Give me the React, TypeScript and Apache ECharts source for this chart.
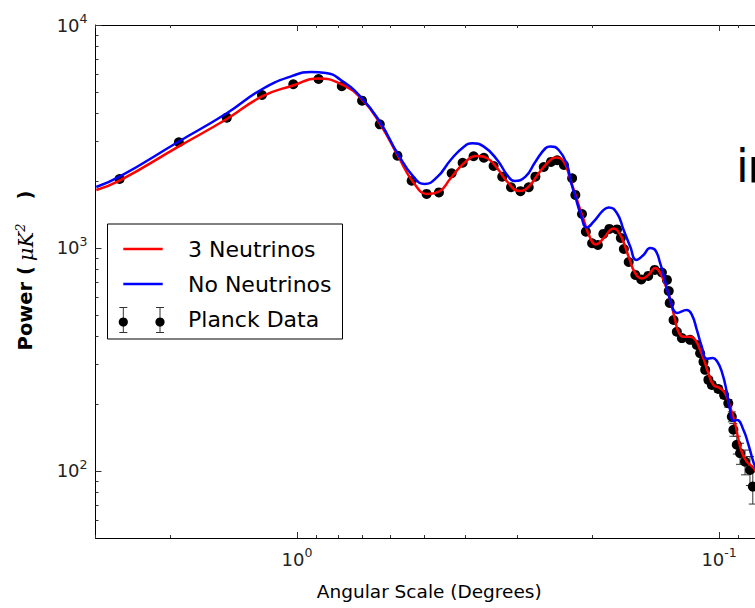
import React, { useEffect, useRef } from "react";
import * as echarts from "echarts";

// ---- Model curves (angular scale in degrees, power in µK²) ----
const redDeg = [2.987, 2.631, 1.904, 1.466, 1.21, 1.022, 0.8934, 0.787, 0.7009, 0.633, 0.5779, 0.528, 0.4909, 0.4609, 0.4324, 0.4022, 0.374, 0.3541, 0.3353, 0.3176, 0.2971, 0.2824, 0.2674, 0.2532, 0.2442, 0.2334, 0.225, 0.217, 0.2093, 0.2018, 0.1959, 0.1877, 0.181, 0.1776, 0.1738, 0.1698, 0.1638, 0.1579, 0.1521, 0.147, 0.1417, 0.1379, 0.1341, 0.1305, 0.1271, 0.1248, 0.1215, 0.1171, 0.1139, 0.1109, 0.1079, 0.106, 0.1031, 0.0995, 0.0968, 0.0942, 0.0917, 0.0901, 0.0884, 0.086, 0.0837, 0.0822, 0.08];
const redPow = [1820, 2004, 2853, 3789, 4779, 5355, 5756, 5437, 4643, 3561, 2612, 1951, 1747, 1789, 2054, 2398, 2586, 2525, 2278, 1983, 1801, 1883, 2163, 2438, 2546, 2438, 2018, 1641, 1336, 1106, 1037, 1106, 1204, 1223, 1192, 1106, 914, 770, 730, 757, 813, 772, 683, 585, 475, 421, 400, 400, 387, 349, 304, 274, 243, 235, 223, 194, 164, 140, 122, 110, 105, 101, 91];

const blueDeg = [2.987, 2.631, 1.904, 1.466, 1.21, 1.022, 0.9267, 0.8539, 0.787, 0.7009, 0.633, 0.5779, 0.528, 0.4982, 0.4649, 0.4324, 0.4022, 0.3842, 0.3607, 0.3353, 0.3176, 0.3053, 0.2875, 0.2723, 0.2578, 0.2509, 0.2398, 0.2291, 0.225, 0.219, 0.2131, 0.2055, 0.1982, 0.1877, 0.1825, 0.1745, 0.1683, 0.1623, 0.1571, 0.151, 0.1456, 0.1417, 0.1379, 0.1341, 0.1305, 0.1257, 0.1193, 0.116, 0.1129, 0.1099, 0.1069, 0.1036, 0.1012, 0.0985, 0.0959, 0.0942, 0.0925, 0.0907, 0.0876, 0.0852, 0.083, 0.0822, 0.08];
const bluePow = [1877, 2088, 3003, 4018, 5149, 5924, 6155, 6093, 5668, 4691, 3625, 2659, 2071, 1936, 2082, 2481, 2847, 2949, 2847, 2481, 2125, 1997, 2088, 2438, 2800, 2853, 2751, 2356, 2018, 1698, 1431, 1236, 1312, 1481, 1519, 1431, 1204, 1013, 884, 930, 1000, 979, 854, 704, 585, 511, 527, 501, 429, 361, 318, 321, 311, 278, 226, 188, 168, 169, 153, 131, 110, 105, 93];

// ---- Planck data points ----
const planckDeg = [2.631, 1.904, 1.466, 1.21, 1.02, 0.8887, 0.7829, 0.7009, 0.6364, 0.5779, 0.5348, 0.4929, 0.4609, 0.43, 0.405, 0.3815, 0.3607, 0.3421, 0.3263, 0.3111, 0.2954, 0.2824, 0.2723, 0.2602, 0.2502, 0.2418, 0.2331, 0.2229, 0.219, 0.2112, 0.2068, 0.1999, 0.1937, 0.188, 0.182, 0.1745, 0.1709, 0.1681, 0.1637, 0.1579, 0.1529, 0.1472, 0.1421, 0.1366, 0.1329, 0.1316, 0.1309, 0.1282, 0.1259, 0.1225, 0.1171, 0.1129, 0.1109, 0.1089, 0.1079, 0.106, 0.104, 0.1004, 0.0973, 0.0951, 0.0933, 0.0925, 0.0908, 0.0892, 0.0868, 0.0845, 0.0832];
const planckPow = [2039, 2979, 3840, 4855, 5421, 5726, 5310, 4577, 3586, 2594, 2004, 1747, 1774, 2163, 2411, 2578, 2538, 2332, 2088, 1872, 1798, 1872, 2088, 2308, 2431, 2474, 2356, 2054, 1729, 1420, 1183, 1050, 1031, 1156, 1217, 1211, 1109, 989, 865, 757, 722, 749, 797, 776, 719, 641, 567, 475, 421, 394, 387, 367, 337, 309, 284, 256, 243, 233, 219, 201, 175, 153, 131, 120, 110, 101, 85];
const planckErr = [60, 60, 60, 70, 70, 70, 60, 50, 45, 35, 30, 25, 25, 28, 30, 30, 30, 28, 26, 24, 22, 22, 24, 26, 26, 26, 25, 22, 20, 17, 15, 13, 13, 14, 15, 15, 14, 13, 12, 11, 11, 11, 12, 12, 11, 10, 9, 8, 8, 8, 8, 8, 8, 8, 8, 8, 8, 8, 8, 8, 9, 10, 12, 13, 14, 15, 14];

// ---- Axis ticks ----
const xMajorTicks = [1, 0.1];
const xMinorTicks = [3, 2, 0.9, 0.8, 0.7, 0.6, 0.5, 0.4, 0.3, 0.2, 0.09, 0.08];
const yMajorTicks = [100, 1000, 10000];
const yMinorTicks = [60, 70, 80, 90, 200, 300, 400, 500, 600, 700, 800, 900, 2000, 3000, 4000, 5000, 6000, 7000, 8000, 9000];

const legendLabels = ["3 Neutrinos", "No Neutrinos", "Planck Data"];

const FONT = "DejaVu Sans";

export default function App() {
  const ref = useRef<HTMLDivElement>(null);

  useEffect(() => {
    if (!ref.current) return;
    const chart = echarts.init(ref.current, null, { renderer: "svg" });

    const fmt = (v: number) => {
      const e = Math.round(Math.log10(v));
      return `{b|10}{s|${e}}`;
    };
    const tickRich = {
      b: { fontSize: 18, fontFamily: FONT, color: "#222", lineHeight: 26 },
      s: { fontSize: 12.5, fontFamily: FONT, color: "#222", verticalAlign: "top", lineHeight: 15 },
    };

    const xCommon: any = {
      type: "log",
      logBase: 10,
      inverse: true,
      min: 0.0787,
      max: 3,
      splitLine: { show: false },
      gridIndex: 0,
    };
    const yCommon: any = {
      type: "log",
      logBase: 10,
      min: 50,
      max: 10000,
      splitLine: { show: false },
      gridIndex: 0,
    };
    const lineStyle = { color: "#000", width: 1 };
    const tickStyle = { color: "#333", width: 1 };

    const xAxis = [
      {
        ...xCommon,
        position: "bottom",
        axisLine: { show: true, lineStyle },
        axisTick: { show: true, inside: true, length: 6, customValues: xMajorTicks, lineStyle: tickStyle },
        axisLabel: { show: true, customValues: xMajorTicks, formatter: fmt, rich: tickRich, margin: 8 },
        name: "Angular Scale (Degrees)",
        nameLocation: "middle",
        nameGap: 44,
        nameTextStyle: { fontFamily: FONT, fontSize: 18.5, color: "#000" },
      },
      {
        ...xCommon,
        position: "bottom",
        axisLine: { show: false },
        axisTick: { show: true, inside: true, length: 3, customValues: xMinorTicks, lineStyle: tickStyle },
        axisLabel: { show: false },
      },
      {
        ...xCommon,
        position: "top",
        axisLine: { show: true, lineStyle },
        axisTick: { show: true, inside: true, length: 6, customValues: xMajorTicks, lineStyle: tickStyle },
        axisLabel: { show: false },
      },
      {
        ...xCommon,
        position: "top",
        axisLine: { show: false },
        axisTick: { show: true, inside: true, length: 3, customValues: xMinorTicks, lineStyle: tickStyle },
        axisLabel: { show: false },
      },
    ];

    const yAxis = [
      {
        ...yCommon,
        position: "left",
        axisLine: { show: true, lineStyle },
        axisTick: { show: true, inside: true, length: 6, customValues: yMajorTicks, lineStyle: tickStyle },
        axisLabel: { show: true, customValues: yMajorTicks, formatter: fmt, rich: tickRich, margin: 8 },
        name: "{g0|}{b|Power (}{g1|}{m|μK}{s|2}{g2|}{b|)}",
        nameLocation: "middle",
        nameRotate: 90,
        nameGap: 58,
        nameTextStyle: {
          rich: {
            g0: { width: 22, lineHeight: 24 },
            g1: { width: 5, lineHeight: 24 },
            g2: { width: 24, lineHeight: 24 },
            b: { fontFamily: FONT, fontSize: 19.5, fontWeight: "bold", color: "#000", lineHeight: 24 },
            m: { fontFamily: "DejaVu Serif", fontSize: 21, fontStyle: "italic", color: "#000", lineHeight: 24 },
            s: { fontFamily: "DejaVu Serif", fontSize: 13, fontStyle: "italic", color: "#000", verticalAlign: "top", lineHeight: 14 },
          },
        },
      },
      {
        ...yCommon,
        position: "left",
        axisLine: { show: false },
        axisTick: { show: true, inside: true, length: 3, customValues: yMinorTicks, lineStyle: tickStyle },
        axisLabel: { show: false },
      },
    ];

    const redData = redDeg.map((d, i) => [d, redPow[i]]);
    const blueData = blueDeg.map((d, i) => [d, bluePow[i]]);
    const planckData = planckDeg.map((d, i) => [d, planckPow[i], planckErr[i]]);

    const lx = 123.3, rx = 162.7;
    const graphic: any[] = [
      {
        type: "rect",
        shape: { x: 107.5, y: 224, width: 235, height: 115 },
        style: { fill: "#fff", stroke: "#000", lineWidth: 1 },
        z: 100,
      },
      { type: "line", shape: { x1: lx, y1: 249, x2: rx, y2: 249 }, style: { stroke: "#ff0000", lineWidth: 2.5 }, z: 101 },
      { type: "line", shape: { x1: lx, y1: 284, x2: rx, y2: 284 }, style: { stroke: "#0000ff", lineWidth: 2.5 }, z: 101 },
    ];
    [123.3, 160].forEach((cx) => {
      graphic.push(
        { type: "line", shape: { x1: cx, y1: 307.5, x2: cx, y2: 332.5 }, style: { stroke: "#333", lineWidth: 1 }, z: 101 },
        { type: "line", shape: { x1: cx - 4, y1: 307.5, x2: cx + 4, y2: 307.5 }, style: { stroke: "#333", lineWidth: 1 }, z: 101 },
        { type: "line", shape: { x1: cx - 4, y1: 332.5, x2: cx + 4, y2: 332.5 }, style: { stroke: "#333", lineWidth: 1 }, z: 101 },
        { type: "circle", shape: { cx, cy: 322, r: 4.6 }, style: { fill: "#000" }, z: 102 }
      );
    });
    [249.5, 284.5, 319.5].forEach((y, i) => {
      graphic.push({
        type: "text",
        x: 188,
        y,
        style: { text: legendLabels[i], fontFamily: FONT, fontSize: 22, fill: "#000", verticalAlign: "middle", align: "left" },
        z: 101,
      });
    });
    // partially visible text at the right edge (cropped in the original)
    graphic.push({
      type: "text",
      x: 736,
      y: 166,
      style: { text: "i", fontFamily: FONT, fontSize: 46, fill: "#000", verticalAlign: "middle", align: "left" },
      z: 101,
    });
    graphic.push({
      type: "rect",
      shape: { x: 751.5, y: 157, width: 4.5, height: 25.5 },
      style: { fill: "#000" },
      z: 101,
    });

    const option: any = {
      animation: false,
      backgroundColor: "#fff",
      textStyle: { fontFamily: FONT },
      grid: { left: 95.5, top: 25, right: 57, bottom: 70, containLabel: false, outerBoundsMode: "none" },
      xAxis,
      yAxis,
      graphic,
      series: [
        {
          type: "custom",
          name: "Planck Data",
          xAxisIndex: 0,
          yAxisIndex: 0,
          data: planckData,
          z: 2,
          renderItem: (params: any, api: any) => {
            const x = api.value(0);
            const y = api.value(1);
            const e = api.value(2);
            const top = api.coord([x, y + e]);
            const bot = api.coord([x, y - e]);
            const s = { stroke: "#333", lineWidth: 1 };
            return {
              type: "group",
              children: [
                { type: "line", shape: { x1: top[0], y1: top[1], x2: bot[0], y2: bot[1] }, style: s },
                { type: "line", shape: { x1: top[0] - 4, y1: top[1], x2: top[0] + 4, y2: top[1] }, style: s },
                { type: "line", shape: { x1: bot[0] - 4, y1: bot[1], x2: bot[0] + 4, y2: bot[1] }, style: s },
              ],
            };
          },
        },
        {
          type: "scatter",
          name: "Planck Data",
          xAxisIndex: 0,
          yAxisIndex: 0,
          data: planckData.map((p) => [p[0], p[1]]),
          symbol: "circle",
          symbolSize: 10,
          itemStyle: { color: "#000", opacity: 1 },
          z: 3,
        },
        {
          type: "line",
          name: "3 Neutrinos",
          xAxisIndex: 0,
          yAxisIndex: 0,
          data: redData,
          showSymbol: false,
          symbol: "none",
          smooth: 0.5,
          lineStyle: { color: "#ff0000", width: 2.5 },
          z: 4,
        },
        {
          type: "line",
          name: "No Neutrinos",
          xAxisIndex: 0,
          yAxisIndex: 0,
          data: blueData,
          showSymbol: false,
          symbol: "none",
          smooth: 0.5,
          lineStyle: { color: "#0000ff", width: 2.5 },
          z: 5,
        },
      ],
    };

    chart.setOption(option);
    return () => chart.dispose();
  }, []);

  return (
    <div style={{ position: "absolute", left: 0, top: 0, width: 755, height: 608, overflow: "hidden", background: "#fff" }}>
      <div ref={ref} style={{ width: 820, height: 608 }} />
    </div>
  );
}
